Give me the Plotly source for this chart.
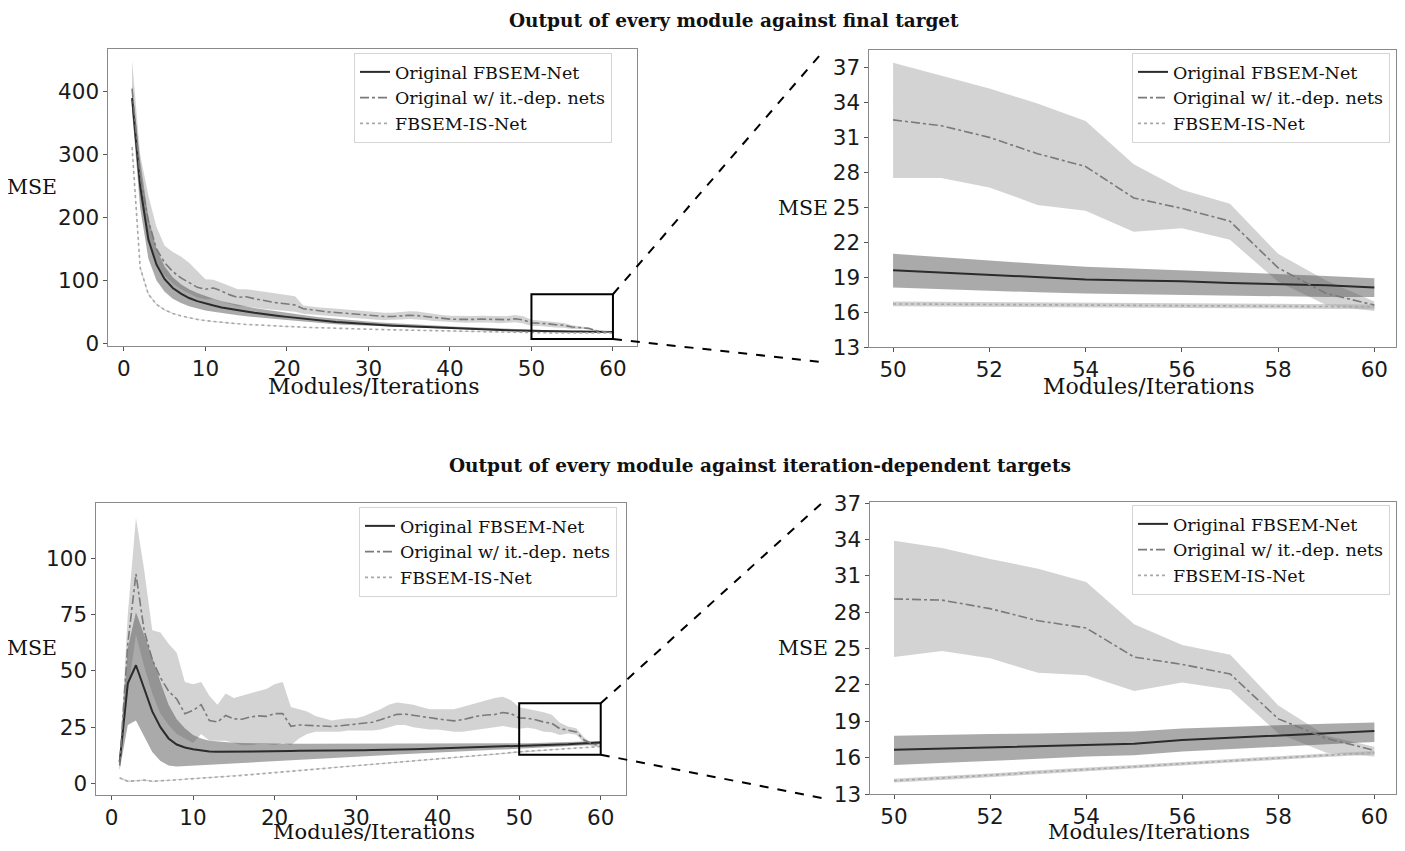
import plotly.graph_objects as go

# ---------------- data ----------------
modules = list(range(1, 61))
series_names = ["Original FBSEM-Net", "Original w/ it.-dep. nets", "FBSEM-IS-Net"]

# Top row: output of every module against final target
orig_top_mean = [390, 250, 165, 125, 102, 88, 79, 72, 67, 63,
                 60, 57, 54.5, 52.5, 50.5, 48.5, 46.5, 45, 43.5, 42,
                 40.5, 39, 37.5, 36, 35, 34, 33, 32, 31, 30,
                 29.3, 28.6, 28, 27.4, 26.8, 26.2, 25.6, 25, 24.5, 24,
                 23.5, 23, 22.5, 22, 21.6, 21.2, 20.8, 20.4, 20, 19.6,
                 19.4, 19.2, 19.0, 18.8, 18.7, 18.65, 18.5, 18.4, 18.3, 18.1]
orig_top_lo = [370, 215, 135, 100, 82, 71, 64, 59, 55, 52,
               50, 48, 46, 44.5, 43, 41.5, 40, 39, 38, 37,
               35.8, 34.6, 33.4, 32.2, 31.2, 30.3, 29.5, 28.7, 27.9, 27.1,
               26.5, 25.9, 25.4, 24.9, 24.4, 23.9, 23.4, 22.9, 22.5, 22.1,
               21.7, 21.3, 20.9, 20.5, 20.1, 19.8, 19.5, 19.1, 18.6, 18.1,
               17.95, 17.85, 17.7, 17.6, 17.55, 17.45, 17.4, 17.35, 17.3, 17.3]
orig_top_hi = [410, 290, 200, 150, 122, 105, 94, 86, 80, 75,
               71, 67, 64, 61, 58.5, 56, 54, 52, 50, 48,
               46, 44.5, 43, 41.5, 40.2, 39, 37.8, 36.6, 35.5, 34.4,
               33.5, 32.7, 31.9, 31.1, 30.4, 29.7, 29, 28.3, 27.7, 27.1,
               26.5, 25.9, 25.3, 24.8, 24.3, 23.8, 23.3, 22.7, 21.9, 21.0,
               20.7, 20.4, 20.15, 19.9, 19.75, 19.6, 19.45, 19.3, 19.1, 18.9]
dep_top_mean = [405, 265, 195, 150, 128, 114, 104, 96, 89, 86,
                88, 83, 77, 73, 74, 71, 68, 66, 64, 63,
                61, 55, 53, 52, 50, 49, 48, 46.5, 45, 44,
                43, 42.5, 42.5, 43.5, 44.5, 44, 42.5, 41, 39.5, 38.5,
                38, 37.5, 38, 38.5, 38, 37, 37.5, 39, 37, 32.5,
                32.0, 31.0, 29.6, 28.5, 25.8, 24.9, 23.8, 19.8, 17.6, 16.6]
dep_top_lo = [380, 230, 165, 125, 108, 95, 86, 79, 73, 70,
              70, 66, 62, 59, 59, 57, 55, 53, 52, 51,
              50, 47, 45.5, 44.5, 43, 42, 41, 40, 39, 38.5,
              37.5, 37, 37, 38, 38.5, 38, 37, 35.5, 34.5, 33.5,
              33, 32.5, 33, 33.5, 33, 32, 32.5, 33.5, 31.5, 27.5,
              27.5, 26.7, 25.2, 24.7, 22.9, 23.2, 22.2, 18.6, 16.6, 16.1]
dep_top_hi = [450, 300, 235, 185, 155, 145, 138, 128, 115, 102,
              101, 96, 90, 86, 86, 84, 82, 80, 78, 76,
              75, 60, 58, 57, 56, 55, 54, 52.5, 51, 50,
              49, 48.5, 48.5, 49.5, 51, 50.5, 48.5, 47, 45, 44,
              43.5, 43, 43.5, 44, 43.5, 42.5, 43, 45, 43, 37.4,
              36.3, 35.2, 33.9, 32.4, 28.7, 26.5, 25.3, 21.0, 18.7, 16.9]
is_top_mean = [312, 120, 78, 62, 53, 47.5, 43.5, 40.5, 38, 36,
               34.5, 33, 32, 31, 30, 29.2, 28.5, 27.8, 27.2, 26.6,
               26.1, 25.6, 25.1, 24.6, 24.2, 23.8, 23.4, 23, 22.6, 22.3,
               22, 21.7, 21.4, 21.1, 20.8, 20.5, 20.2, 19.9, 19.6, 19.3,
               19.0, 18.7, 18.4, 18.1, 17.8, 17.5, 17.3, 17.1, 16.9, 16.7,
               16.68, 16.65, 16.62, 16.6, 16.57, 16.55, 16.52, 16.5, 16.48, 16.45]
is_top_sd = [4, 2, 1.2, 0.9, 0.7, 0.6, 0.5, 0.45, 0.4, 0.4,
             0.35, 0.35, 0.3, 0.3, 0.3, 0.3, 0.3, 0.3, 0.3, 0.3,
             0.25, 0.25, 0.25, 0.25, 0.25, 0.25, 0.25, 0.25, 0.25, 0.25,
             0.22, 0.22, 0.22, 0.22, 0.22, 0.22, 0.22, 0.22, 0.22, 0.22,
             0.2, 0.2, 0.2, 0.2, 0.2, 0.2, 0.2, 0.2, 0.2, 0.2,
             0.2, 0.2, 0.2, 0.2, 0.2, 0.2, 0.2, 0.2, 0.2, 0.2]

# Bottom row: output of every module against iteration-dependent targets
orig_bot_mean = [9.5, 44.5, 52.5, 42, 32, 25, 20, 17.3, 16, 15.2,
                 14.6, 14.2, 14.1, 14.1, 14.1, 14.1, 14.2, 14.2, 14.3, 14.4,
                 14.4, 14.4, 14.5, 14.5, 14.5, 14.6, 14.6, 14.7, 14.7, 14.8,
                 14.8, 14.9, 14.9, 15.0, 15.0, 15.1, 15.2, 15.3, 15.4, 15.5,
                 15.6, 15.7, 15.8, 15.9, 16.0, 16.1, 16.2, 16.3, 16.5, 16.65,
                 16.75, 16.85, 16.95, 17.05, 17.15, 17.45, 17.65, 17.85, 18.0, 18.2]
orig_bot_lo = [6, 26, 28, 21, 14, 10, 8, 7.5, 7.5, 7.8,
               8, 8.3, 8.5, 8.7, 8.9, 9.1, 9.3, 9.5, 9.7, 9.9,
               10.1, 10.3, 10.5, 10.7, 10.9, 11.1, 11.3, 11.5, 11.7, 11.9,
               12.1, 12.3, 12.5, 12.7, 12.9, 13.1, 13.3, 13.5, 13.7, 13.9,
               14.05, 14.2, 14.35, 14.5, 14.65, 14.8, 14.95, 15.1, 15.25, 15.4,
               15.6, 15.75, 15.9, 16.1, 16.2, 16.5, 16.7, 16.9, 17.1, 17.3]
orig_bot_hi = [12, 60, 76, 66, 56, 45, 35, 28.5, 24.5, 21.5,
               20, 19, 18.6, 18.3, 18.1, 18, 17.9, 17.8, 17.8, 17.7,
               17.7, 17.6, 17.6, 17.6, 17.6, 17.6, 17.6, 17.6, 17.6, 17.6,
               17.6, 17.6, 17.6, 17.6, 17.6, 17.6, 17.65, 17.65, 17.65, 17.65,
               17.7, 17.7, 17.7, 17.7, 17.7, 17.75, 17.75, 17.75, 17.8, 17.8,
               17.9, 17.95, 18.0, 18.1, 18.15, 18.4, 18.55, 18.7, 18.8, 18.9]
dep_bot_mean = [8, 62, 93, 68, 55, 47, 41, 37.5, 31, 32.4,
                35, 28, 27.3, 30.2, 28.7, 28.5, 29.5, 30, 29.8, 31,
                31, 25.4, 26, 25.8, 25.7, 25.5, 25.3, 25.6, 26, 26.3,
                26.5, 27.2, 28.3, 29.5, 30.7, 30.8, 30.2, 29.6, 29, 28.7,
                28.2, 27.8, 28.3, 29.2, 30, 30.4, 30.6, 31.5, 31, 29.1,
                29.0, 28.3, 27.3, 26.7, 24.3, 23.7, 22.9, 19.2, 17.6, 16.6]
dep_bot_lo = [6, 40, 66, 52, 40, 31, 26, 22, 20, 18,
              22, 19, 19, 19, 18, 17, 17, 17.5, 17.5, 17,
              18, 17, 20, 22, 23, 23, 23, 23, 23.5, 23.5,
              23.5, 23.5, 24, 25, 26, 26, 25, 24.5, 24, 24,
              23.5, 23, 23, 23.5, 24, 24.5, 25, 25.5, 25, 24.3,
              24.8, 24.2, 23.0, 22.8, 21.5, 22.2, 21.6, 18.0, 16.4, 16.1]
dep_bot_hi = [10, 75, 118, 95, 68, 67, 62, 58, 45, 44,
              45, 39, 35, 40, 38, 39, 40, 41, 42, 44,
              45, 34, 33, 32, 30, 29, 28, 28.5, 29, 29,
              30, 31.5, 33, 35, 36, 35.5, 35, 34, 33, 33,
              33, 33, 34, 35, 36, 37, 38, 38.5, 37, 33.9,
              33.3, 32.4, 31.6, 30.5, 27.0, 25.3, 24.5, 20.3, 17.8, 16.9]
is_bot_mean = [2.5, 1, 1.2, 1.5, 1, 1.1, 1.3, 1.6, 1.9, 2.2,
               2.5, 2.7, 2.9, 3.1, 3.3, 3.6, 3.9, 4.2, 4.5, 4.8,
               5.1, 5.4, 5.7, 6.0, 6.3, 6.6, 6.9, 7.2, 7.5, 7.8,
               8.1, 8.4, 8.7, 9.0, 9.3, 9.6, 9.9, 10.2, 10.5, 10.8,
               11.1, 11.4, 11.7, 12.0, 12.3, 12.6, 12.9, 13.3, 13.7, 14.1,
               14.3, 14.55, 14.8, 15.0, 15.25, 15.5, 15.75, 16.0, 16.2, 16.4]
is_bot_sd = [0.4, 0.3, 0.3, 0.3, 0.25, 0.25, 0.25, 0.2, 0.2, 0.2,
             0.2, 0.2, 0.2, 0.2, 0.2, 0.2, 0.2, 0.2, 0.2, 0.2,
             0.18, 0.18, 0.18, 0.18, 0.18, 0.18, 0.18, 0.18, 0.18, 0.18,
             0.16, 0.16, 0.16, 0.16, 0.16, 0.16, 0.16, 0.16, 0.16, 0.16,
             0.15, 0.15, 0.15, 0.15, 0.15, 0.15, 0.15, 0.15, 0.15, 0.15,
             0.15, 0.15, 0.15, 0.15, 0.15, 0.15, 0.15, 0.15, 0.15, 0.15]

zoom_start = 50  # the right-hand panels show modules 50..60

titles = ["Output of every module against final target",
          "Output of every module against iteration-dependent targets"]
x_label = "Modules/Iterations"
y_label = "MSE"

# ---------------- styling / layout ----------------
OFF = 8                      # default page margin of the browser body
W, H = 1405 - 2 * OFF, 851 - 2 * OFF
SERIF = "DejaVu Serif"
SANS = "DejaVu Sans"

def px_x(p):
    return min(max((p - OFF) / W, 0.0), 1.0)

def px_y(p):
    return min(max(1 - (p - OFF) / H, 0.0), 1.0)

dom = {
    "TL": ([px_x(108), px_x(637)], [px_y(346), px_y(49)]),
    "TR": ([px_x(869), px_x(1396)], [px_y(347), px_y(50)]),
    "BL": ([px_x(96), px_x(626)], [px_y(795), px_y(503)]),
    "BR": ([px_x(870), px_x(1396)], [px_y(794), px_y(502)]),
}
rng = {
    "TL": ([-1.95, 62.95], [-4.3, 468]),
    "TR": ([49.5, 60.45], [13, 38.5]),
    "BL": ([-1.9, 63.1], [-5.1, 124.5]),
    "BR": ([49.5, 60.45], [13, 37.1]),
}
axes_ids = {"TL": ("x", "y", "legend"), "TR": ("x2", "y2", "legend2"),
            "BL": ("x3", "y3", "legend3"), "BR": ("x4", "y4", "legend4")}

BAND_ORIG = "rgba(85,85,85,0.5)"
BAND_DEP = "rgba(170,170,170,0.52)"
BAND_IS = "rgba(170,170,170,0.55)"
LINE_ORIG = dict(color="#2b2b2b", width=2, dash="solid")
LINE_DEP = dict(color="#7a7a7a", width=1.6, dash="dashdot")
LINE_IS = dict(color="#a8a8a8", width=1.6, dash="dot")

fig = go.Figure()

def add_panel(key, start, om, olo, ohi, dm, dlo, dhi, im, isd):
    xa, ya, lg = axes_ids[key]
    i0 = modules.index(start)
    xs = modules[i0:]
    om, olo, ohi = om[i0:], olo[i0:], ohi[i0:]
    dm, dlo, dhi = dm[i0:], dlo[i0:], dhi[i0:]
    im, isd = im[i0:], isd[i0:]
    xr = xs + xs[::-1]
    fig.add_trace(go.Scatter(x=xr, y=dhi + dlo[::-1], fill="toself", fillcolor=BAND_DEP,
                             line=dict(width=0), hoverinfo="skip", showlegend=False,
                             xaxis=xa, yaxis=ya))
    fig.add_trace(go.Scatter(x=xr, y=ohi + olo[::-1], fill="toself", fillcolor=BAND_ORIG,
                             line=dict(width=0), hoverinfo="skip", showlegend=False,
                             xaxis=xa, yaxis=ya))
    i_hi = [m + s for m, s in zip(im, isd)]
    i_lo = [m - s for m, s in zip(im, isd)]
    fig.add_trace(go.Scatter(x=xr, y=i_hi + i_lo[::-1], fill="toself", fillcolor=BAND_IS,
                             line=dict(width=0), hoverinfo="skip", showlegend=False,
                             xaxis=xa, yaxis=ya))
    for name, ys, ln in zip(series_names, [om, dm, im], [LINE_ORIG, LINE_DEP, LINE_IS]):
        fig.add_trace(go.Scatter(x=xs, y=ys, mode="lines", name=name, line=ln,
                                 xaxis=xa, yaxis=ya, legend=lg))

top = (orig_top_mean, orig_top_lo, orig_top_hi, dep_top_mean, dep_top_lo, dep_top_hi, is_top_mean, is_top_sd)
bot = (orig_bot_mean, orig_bot_lo, orig_bot_hi, dep_bot_mean, dep_bot_lo, dep_bot_hi, is_bot_mean, is_bot_sd)
add_panel("TL", modules[0], *top)
add_panel("TR", zoom_start, *top)
add_panel("BL", modules[0], *bot)
add_panel("BR", zoom_start, *bot)

tick_font = dict(family=SANS, size=21.5, color="#1a1a1a")
axis_common = dict(showgrid=False, zeroline=False, showline=True, mirror=True,
                   linecolor="#8a8a8a", linewidth=1.2, ticks="outside", ticklen=3.5,
                   tickcolor="#555", tickfont=tick_font, automargin=False)

xticks = {"TL": [0, 10, 20, 30, 40, 50, 60], "BL": [0, 10, 20, 30, 40, 50, 60],
          "TR": [50, 52, 54, 56, 58, 60], "BR": [50, 52, 54, 56, 58, 60]}
yticks = {"TL": [0, 100, 200, 300, 400], "BL": [0, 25, 50, 75, 100],
          "TR": [13, 16, 19, 22, 25, 28, 31, 34, 37], "BR": [13, 16, 19, 22, 25, 28, 31, 34, 37]}

layout = dict(width=W, height=H, margin=dict(l=0, r=0, t=0, b=0, autoexpand=False),
              paper_bgcolor="white", plot_bgcolor="white", showlegend=True)
legend_pos = {"TL": (px_x(612), px_y(53)), "TR": (px_x(1390), px_y(53)),
              "BL": (px_x(617), px_y(507)), "BR": (px_x(1390), px_y(505))}
for key, (xa, ya, lg) in axes_ids.items():
    xname = "xaxis" + xa[1:]
    yname = "yaxis" + ya[1:]
    layout[xname] = dict(axis_common, domain=dom[key][0], range=rng[key][0],
                         tickvals=xticks[key], anchor=ya)
    layout[yname] = dict(axis_common, domain=dom[key][1], range=rng[key][1],
                         tickvals=yticks[key], anchor=xa)
    lx, ly = legend_pos[key]
    layout[lg] = dict(x=lx, y=ly, xanchor="right", yanchor="top", xref="paper", yref="paper",
                      bgcolor="rgba(255,255,255,0.85)", bordercolor="#d5d5d5", borderwidth=1,
                      font=dict(family=SERIF, size=17.5, color="#111"), tracegroupgap=0,
                      itemwidth=30)
fig.update_layout(**layout)

# ---------------- annotations ----------------
annos = []
title_font = dict(family=SERIF, size=18.5, color="#111")
annos.append(dict(text="<b>%s</b>" % titles[0], x=px_x(734), y=px_y(21)))
annos.append(dict(text="<b>%s</b>" % titles[1], x=px_x(760), y=px_y(466)))
for a in annos:
    a["font"] = title_font
mse_font = dict(family=SERIF, size=20.5, color="#111")
xl_font = dict(family=SERIF, size=22, color="#111")
xl_font_low = dict(family=SERIF, size=21, color="#111")
for (mx, my) in [(32, 187), (803, 208), (32, 648), (803, 648)]:
    annos.append(dict(text=y_label, x=px_x(mx), y=px_y(my), font=mse_font))
for (mx, my) in [(374, 386), (1149, 386)]:
    annos.append(dict(text=x_label, x=px_x(mx), y=px_y(my), font=xl_font))
for (mx, my) in [(374, 832), (1149, 832)]:
    annos.append(dict(text=x_label, x=px_x(mx), y=px_y(my), font=xl_font_low))
for a in annos:
    a.update(xref="paper", yref="paper", showarrow=False, xanchor="center", yanchor="middle",
             borderpad=0)
fig.update_layout(annotations=annos)

# ---------------- zoom boxes and connectors ----------------
def to_paper(key, xv, yv):
    (dx, dy), (rx, ry) = dom[key], rng[key]
    px = dx[0] + (xv - rx[0]) / (rx[1] - rx[0]) * (dx[1] - dx[0])
    py = dy[0] + (yv - ry[0]) / (ry[1] - ry[0]) * (dy[1] - dy[0])
    return px, py

zoom_boxes = {"TL": (50, 60, 6.8, 78), "BL": (50, 60, 12.8, 35.6)}
connector_ends = {"TL": ((820, 55), (822, 362)), "BL": ((822, 503), (822, 798))}
shapes = []
for key, (x0, x1, y0, y1) in zoom_boxes.items():
    xa, ya, _ = axes_ids[key]
    shapes.append(dict(type="rect", xref=xa, yref=ya, x0=x0, x1=x1, y0=y0, y1=y1,
                       line=dict(color="black", width=2)))
    tr = to_paper(key, x1, y1)
    br = to_paper(key, x1, y0)
    (ex1, ey1), (ex2, ey2) = connector_ends[key]
    shapes.append(dict(type="line", xref="paper", yref="paper", x0=tr[0], y0=tr[1],
                       x1=px_x(ex1), y1=px_y(ey1), line=dict(color="black", width=2, dash="dash")))
    shapes.append(dict(type="line", xref="paper", yref="paper", x0=br[0], y0=br[1],
                       x1=px_x(ex2), y1=px_y(ey2), line=dict(color="black", width=2, dash="dash")))
fig.update_layout(shapes=shapes)

fig.write_html("out.html")
